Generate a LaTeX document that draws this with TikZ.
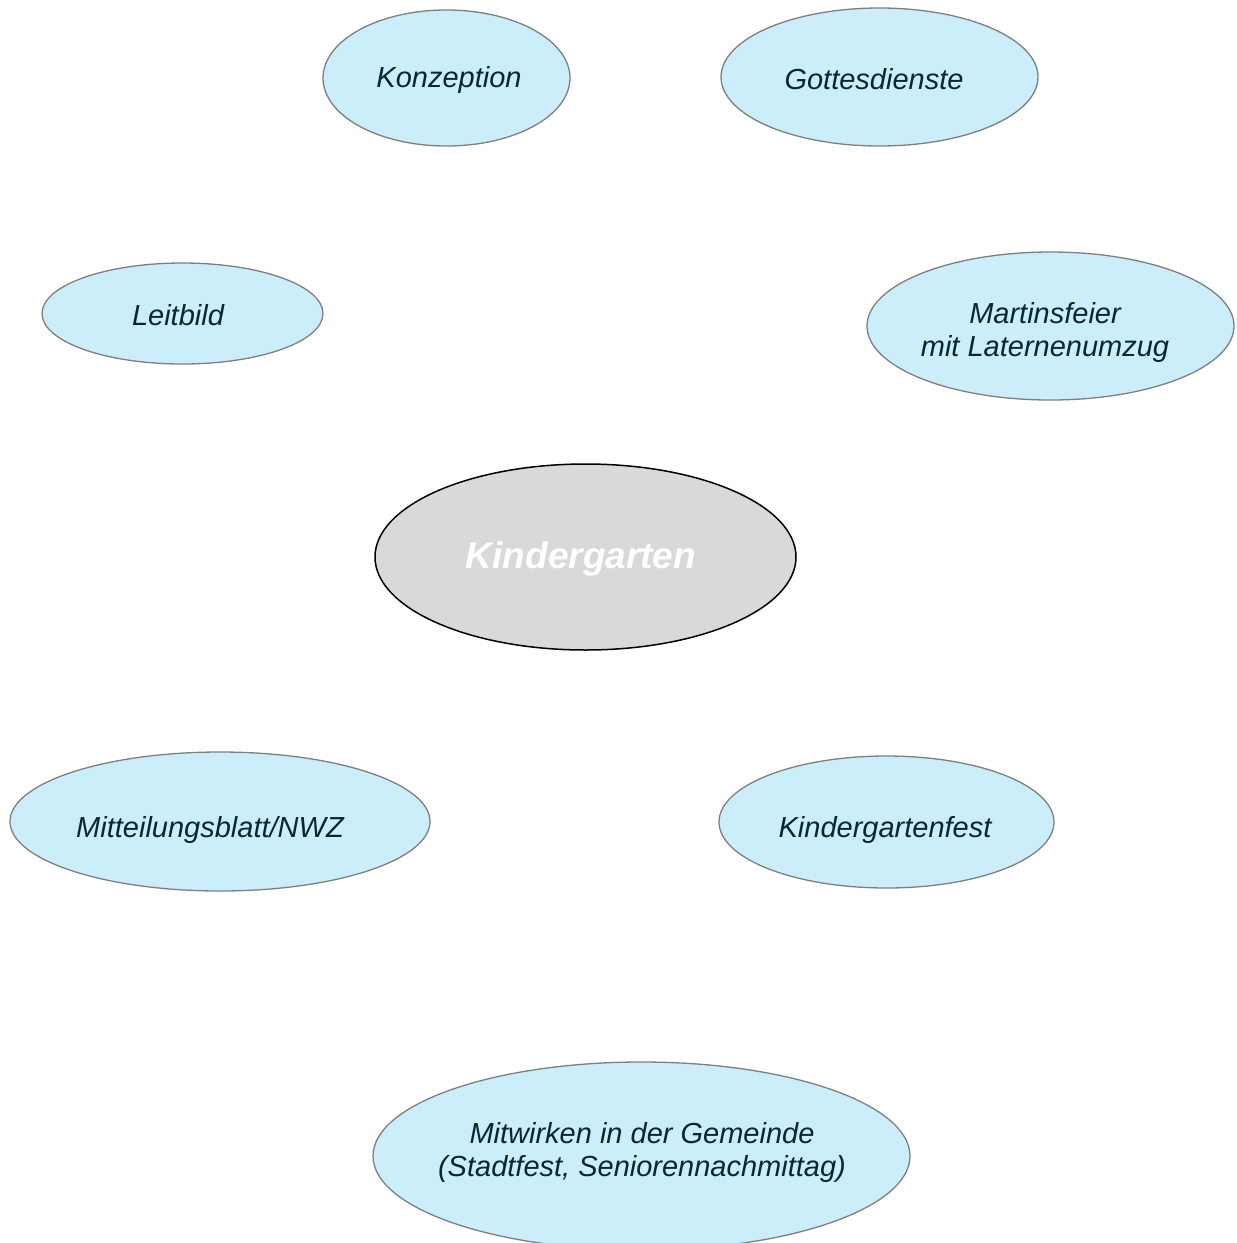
\documentclass[tikz,border=0pt]{standalone}
\usepackage{fontspec}
\setmainfont{Liberation Sans}
\usetikzlibrary{shapes.geometric}
\definecolor{bubblefill}{HTML}{CCEEFA}
\definecolor{bubbleline}{HTML}{7F7F7F}
\definecolor{bubbletext}{HTML}{0A2535}
\definecolor{centerfill}{HTML}{D9D9D9}
\tikzset{
  bubble/.style={ellipse, draw=bubbleline, fill=bubblefill, line width=1.3pt, inner sep=0pt},
  centerbubble/.style={ellipse, draw=black, fill=centerfill, line width=1.5pt, inner sep=0pt},
  txt/.style={align=center, text=bubbletext, font=\fontsize{29}{33}\selectfont\itshape},
  centertxt/.style={align=center, text=white, font=\fontsize{37}{40}\selectfont\bfseries\itshape}
}
\begin{document}
\begin{tikzpicture}[x=1pt,y=-1pt]
\useasboundingbox (0,0) rectangle (1237,1243);
\clip (0,0) rectangle (1237,1243);
\node[bubble, minimum width=247pt, minimum height=136pt] (konz) at (446.5,78) {};
\node[txt] at (449,80) {Konzeption};
\node[bubble, minimum width=317pt, minimum height=138pt] (gott) at (879.5,77) {};
\node[txt] at (874,79) {Gottesdienste};
\node[bubble, minimum width=281pt, minimum height=101pt] (leit) at (182.5,313.5) {};
\node[txt] at (178,315) {Leitbild};
\node[bubble, minimum width=367pt, minimum height=148pt] (mart) at (1050.5,326) {};
\node[txt] at (1045,332) {Martinsfeier\\mit Laternenumzug};
\node[centerbubble, minimum width=421pt, minimum height=186pt] (kiga) at (585.5,557) {};
\node[centertxt] at (581,559) {Kindergarten};
\node[bubble, minimum width=420pt, minimum height=139pt] (mitt) at (220,821.5) {};
\node[txt] at (210,830) {Mitteilungsblatt/NWZ};
\node[bubble, minimum width=335pt, minimum height=132pt] (fest) at (886.5,822) {};
\node[txt] at (885,830) {Kindergartenfest};
\node[bubble, minimum width=537pt, minimum height=188pt] (gem) at (641.5,1156) {};
\node[txt] at (642,1152) {Mitwirken in der Gemeinde\\(Stadtfest, Seniorennachmittag)};
\end{tikzpicture}
\end{document}
